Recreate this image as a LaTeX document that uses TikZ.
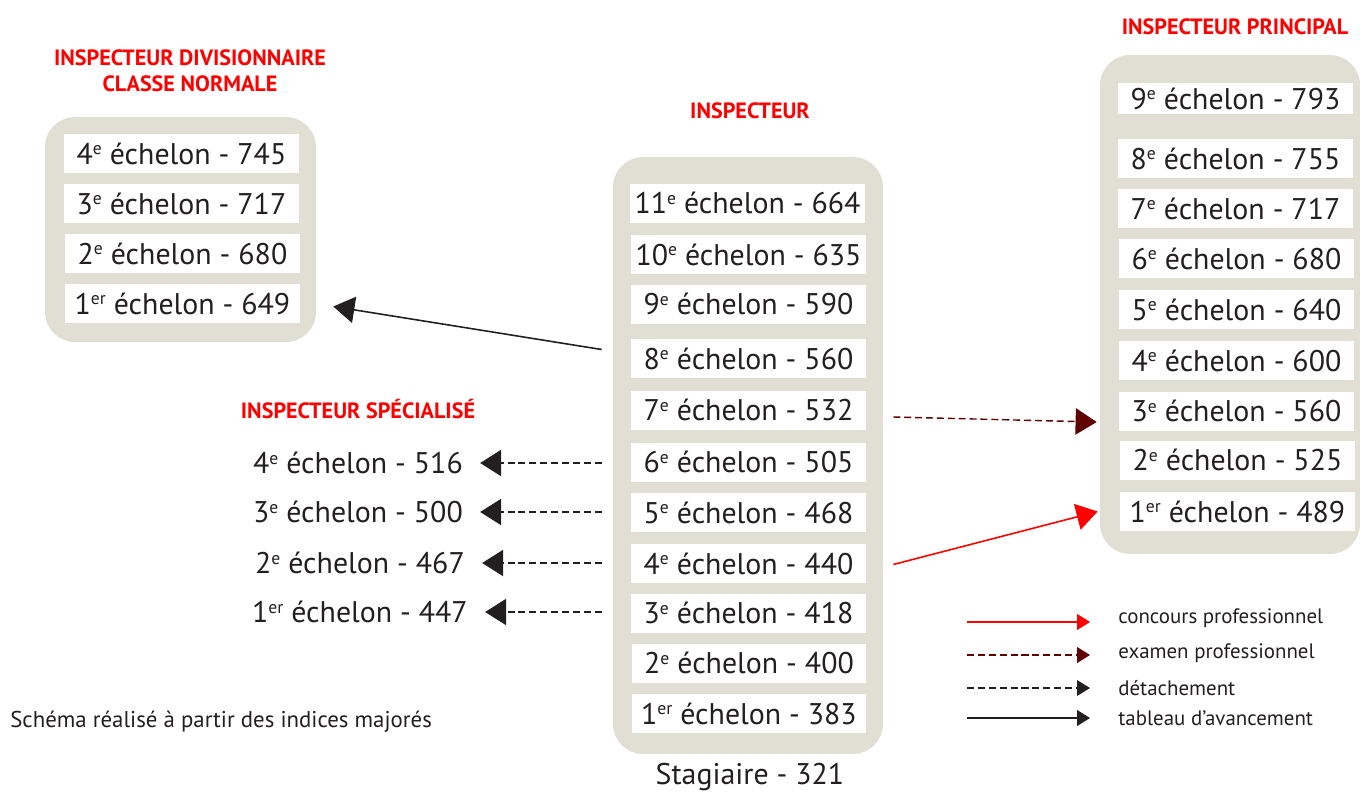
\documentclass[tikz,border=0pt]{standalone}
\usepackage{fontspec}
\setmainfont{PT Sans}
\usetikzlibrary{arrows.meta}
\definecolor{panelgray}{RGB}{225,223,211}
\definecolor{ink}{RGB}{35,31,32}
\definecolor{titlered}{RGB}{255,0,0}
\definecolor{examred}{RGB}{96,0,0}
\newcommand{\expo}[1]{\raisebox{0.62ex}{\fontsize{10}{10}\selectfont #1}}
\newcommand{\ech}[3][e]{#2\expo{#1} échelon - #3}

\begin{document}
\begin{tikzpicture}[x=0.02cm,y=-0.02cm,
    panel/.style={fill=panelgray, rounded corners=0.6cm, inner sep=0},
    rung/.style={fill=white, text=ink, inner sep=0, minimum width=4.7cm,
        minimum height=0.78cm, font=\fontsize{17}{20}\selectfont},
    grade/.style={text=ink, inner sep=0, font=\fontsize{17}{20}\selectfont},
    titre/.style={text=titlered, align=center, inner sep=0,
        font=\bfseries\fontsize{12.6}{14.7}\selectfont},
    legende/.style={text=ink, anchor=west, inner sep=0, font=\fontsize{11.9}{13}\selectfont},
    bigtip/.style={-{Triangle[length=12pt,width=15pt]}},
    smalltip/.style={-{Triangle[length=7.4pt,width=9pt]}},
    concours/.style={titlered, line width=0.9pt},
    examen/.style={examred, line width=0.8pt, dash pattern=on 4pt off 2.2pt},
    detache/.style={ink, line width=0.6pt, dash pattern=on 4pt off 2.2pt},
    avance/.style={ink, line width=0.9pt}]
\useasboundingbox (0,0) rectangle (1360,792);

% inspecteur divisionnaire
\node[titre] (tdiv) at (190,71) {INSPECTEUR DIVISIONNAIRE\\CLASSE NORMALE};
\node[panel, minimum width=5.42cm, minimum height=4.5cm] (div) at (180.5,229.5) {};
\node[rung] (d4) at (181.5,153.5) {\ech{4}{745}};
\node[rung] (d3) at (181.5,203.5) {\ech{3}{717}};
\node[rung] (d2) at (182.5,253.5) {\ech{2}{680}};
\node[rung] (d1) at (182.5,303.5) {\ech[er]{1}{649}};

% inspecteur
\node[titre] (tins) at (750,111) {INSPECTEUR};
\node[panel, minimum width=5.4cm, minimum height=11.94cm] (ins) at (748,455.5) {};
\node[rung] (i11) at (747.5,203) {\ech{11}{664}};
\node[rung] (i10) at (748.5,254.5) {\ech{10}{635}};
\node[rung] (i9) at (748.5,304) {\ech{9}{590}};
\node[rung] (i8) at (748.5,358.5) {\ech{8}{560}};
\node[rung] (i7) at (748.5,410) {\ech{7}{532}};
\node[rung] (i6) at (748.5,462) {\ech{6}{505}};
\node[rung] (i5) at (748.5,512.5) {\ech{5}{468}};
\node[rung] (i4) at (748.5,563.5) {\ech{4}{440}};
\node[rung] (i3) at (748.5,613) {\ech{3}{418}};
\node[rung] (i2) at (749,663) {\ech{2}{400}};
\node[rung] (i1) at (749,713.5) {\ech[er]{1}{383}};
\node[grade] (stag) at (750,777) {Stagiaire - 321};

% inspecteur principal
\node[titre] (tpri) at (1235,27) {INSPECTEUR PRINCIPAL};
\node[panel, minimum width=5.2cm, minimum height=9.98cm] (pri) at (1230,304.5) {};
\node[rung, minimum height=0.62cm] (p9) at (1235.5,98.5) {\ech{9}{793}};
\node[rung] (p8) at (1235.5,158.5) {\ech{8}{755}};
\node[rung] (p7) at (1235.5,208.5) {\ech{7}{717}};
\node[rung] (p6) at (1236.5,258.5) {\ech{6}{680}};
\node[rung] (p5) at (1236.5,309.5) {\ech{5}{640}};
\node[rung] (p4) at (1236.5,360.5) {\ech{4}{600}};
\node[rung] (p3) at (1236.5,411) {\ech{3}{560}};
\node[rung] (p2) at (1237.5,460) {\ech{2}{525}};
\node[rung] (p1) at (1237.5,511.5) {\ech[er]{1}{489}};

% inspecteur specialise
\node[titre] (tspe) at (358,409) {INSPECTEUR SPÉCIALISÉ};
\node[grade] (s4) at (358,463) {\ech{4}{516}};
\node[grade] (s3) at (358,512) {\ech{3}{500}};
\node[grade] (s2) at (360,563) {\ech{2}{467}};
\node[grade] (s1) at (360,612) {\ech[er]{1}{447}};

% passages
\draw[avance, bigtip] ([shift={(-0.22cm,0.18cm)}]ins.west |- i8) -- ([shift={(0.34cm,-0.06cm)}]div.east |- d1);
\draw[detache, bigtip] ([xshift=-0.22cm]ins.west |- s4) -- ([xshift=0.34cm]s4.east);
\draw[detache, bigtip] ([xshift=-0.22cm]ins.west |- s3) -- ([xshift=0.34cm]s3.east);
\draw[detache, bigtip] ([xshift=-0.22cm]ins.west |- s2) -- ([xshift=0.34cm]s2.east);
\draw[detache, bigtip] ([xshift=-0.22cm]ins.west |- s1) -- ([xshift=0.34cm]s1.east);
\draw[examen, bigtip] ([shift={(0.2cm,-0.14cm)}]ins.east |- i7) -- ([shift={(-0.06cm,-0.22cm)}]pri.west |- p3);
\draw[concours, bigtip] ([shift={(0.2cm,-0.02cm)}]ins.east |- i4) -- ([shift={(-0.04cm,0cm)}]pri.west |- p1);

% legende
\node[legende] (l1) at (1118,618) {concours professionnel};
\node[legende] (l2) at (1118,653) {examen professionnel};
\node[legende] (l3) at (1118,688) {détachement};
\node[legende] (l4) at (1118,718) {tableau d'avancement};
\coordinate (c1) at (967,622);
\coordinate (c2) at (967,655);
\coordinate (c3) at (967,688);
\coordinate (c4) at (967,718);
\draw[concours, smalltip] (c1) -- ([xshift=-0.56cm]c1 -| l1.west);
\draw[examen, smalltip] (c2) -- ([xshift=-0.56cm]c2 -| l2.west);
\draw[detache, smalltip] (c3) -- ([xshift=-0.56cm]c3 -| l3.west);
\draw[avance, smalltip] (c4) -- ([xshift=-0.56cm]c4 -| l4.west);

\node[legende, font=\fontsize{13}{15}\selectfont] (note) at (10,722) {Schéma réalisé à partir des indices majorés};
\end{tikzpicture}
\end{document}
